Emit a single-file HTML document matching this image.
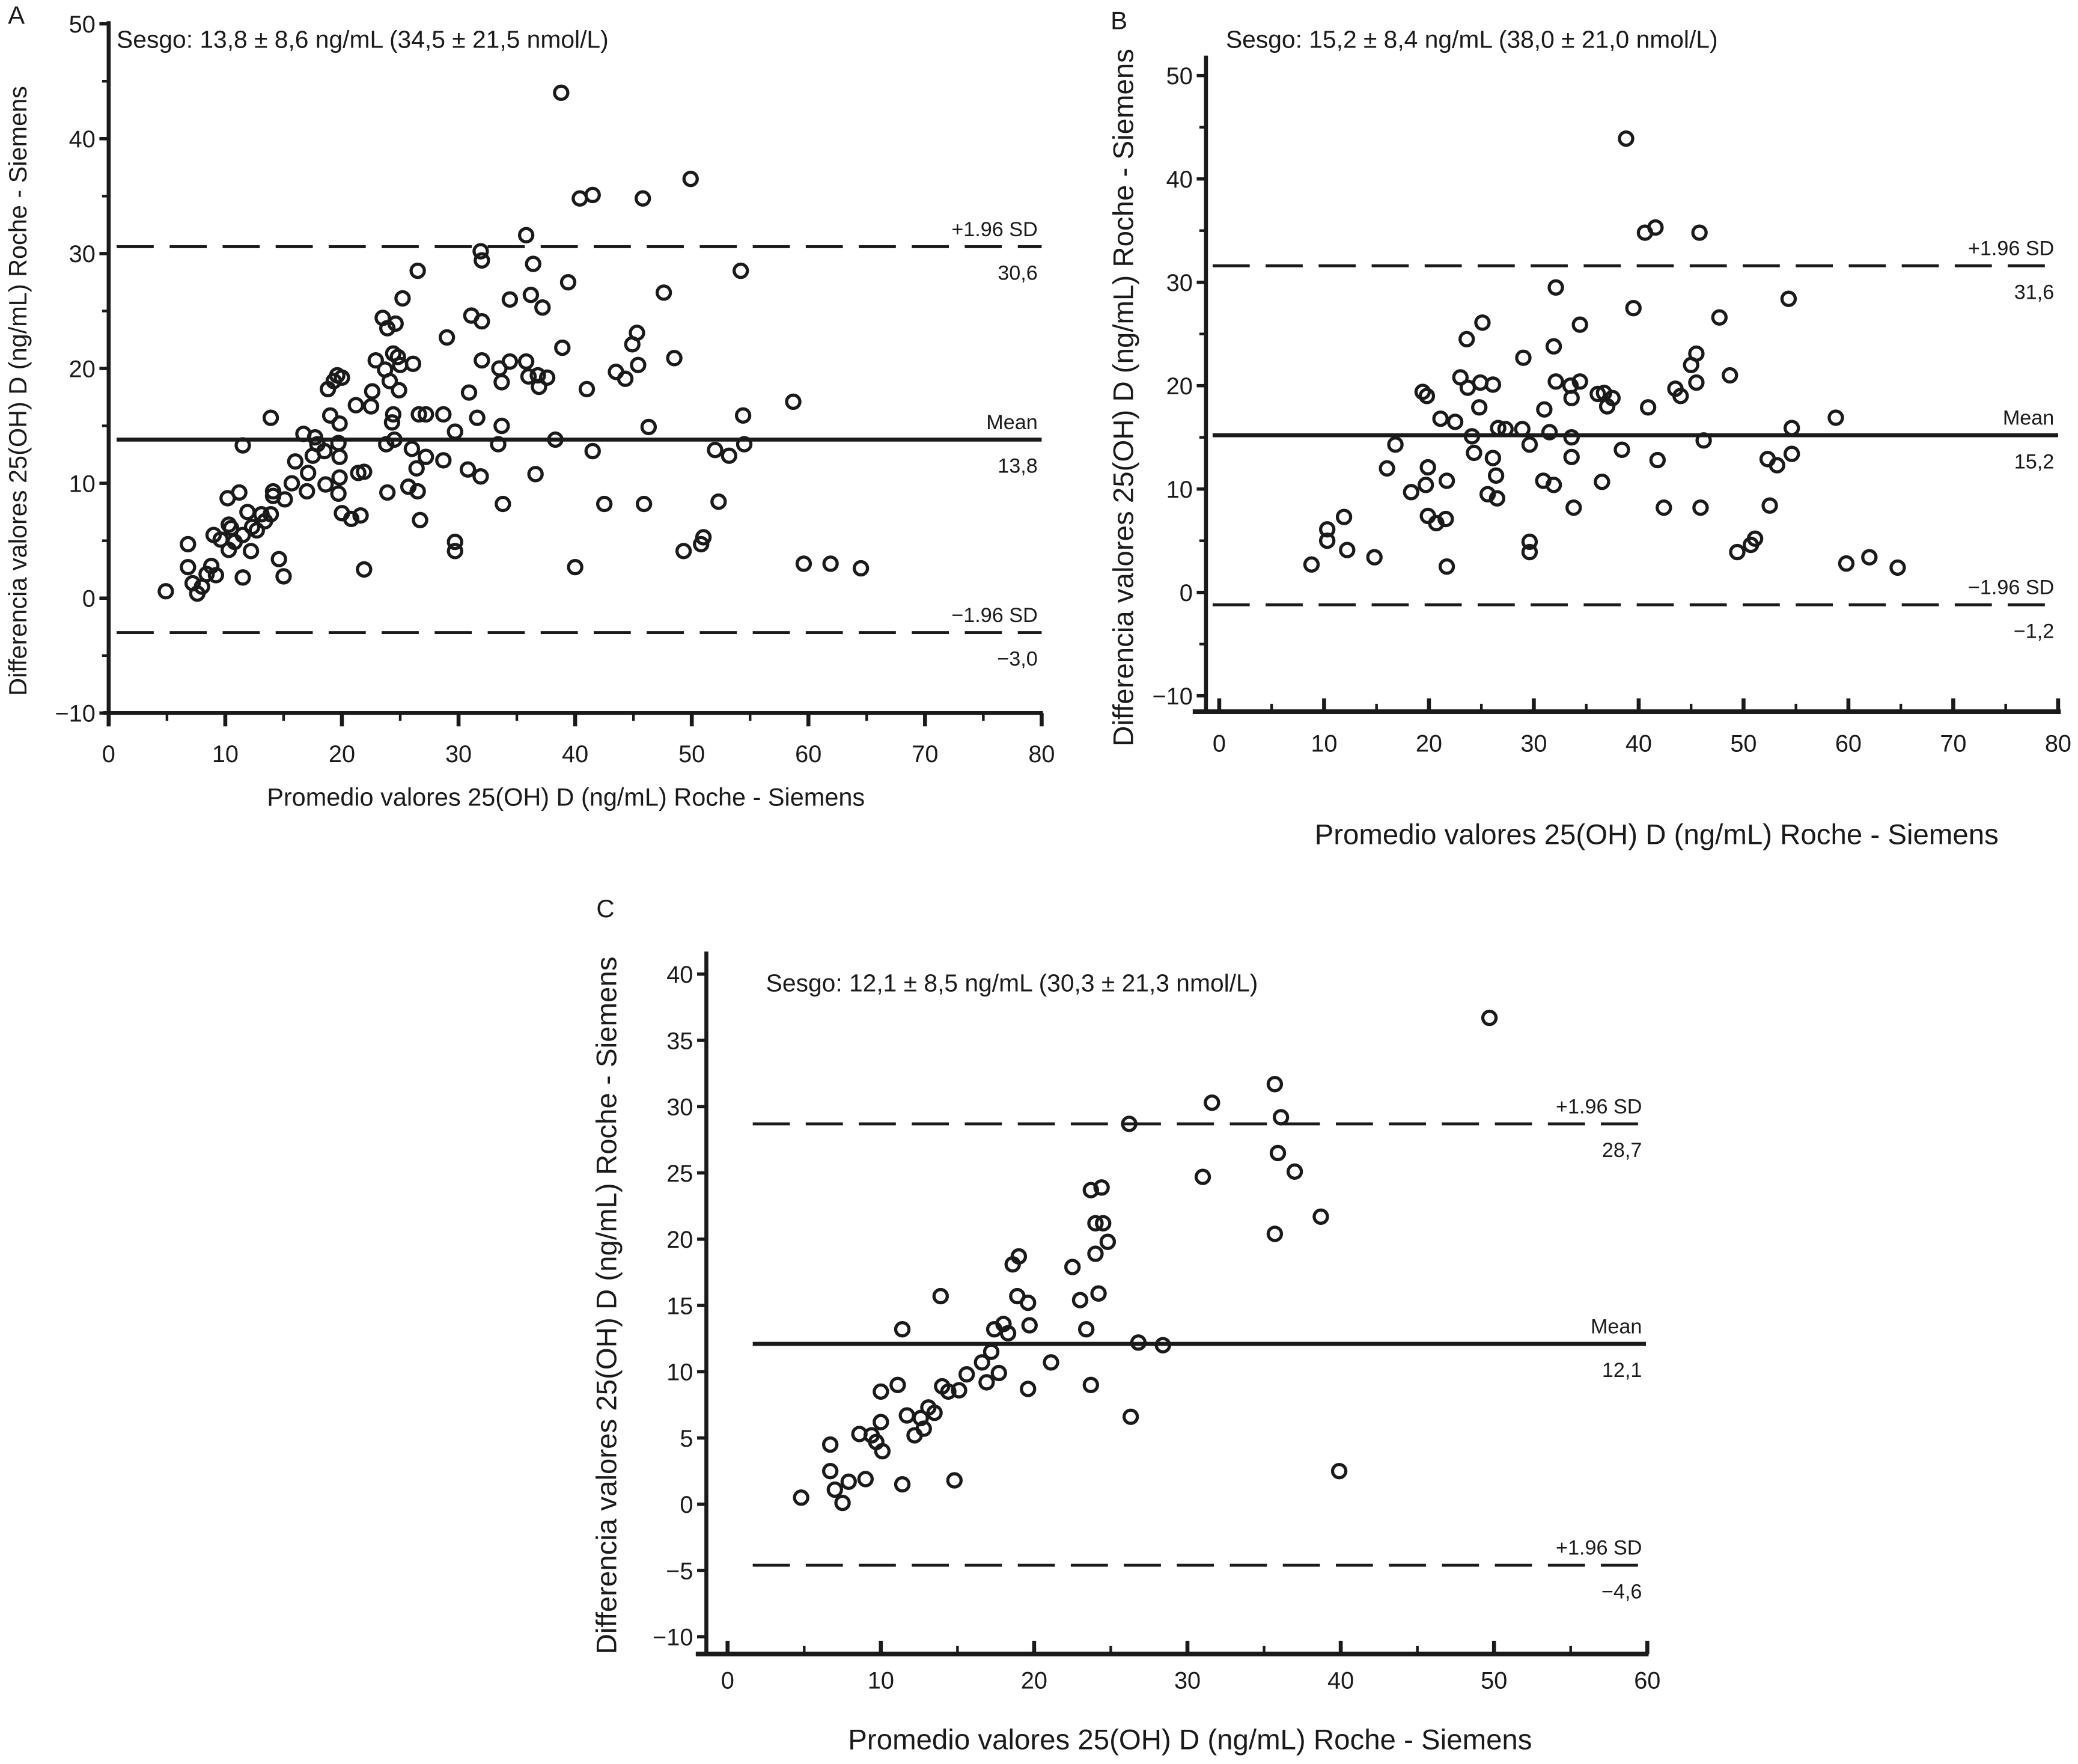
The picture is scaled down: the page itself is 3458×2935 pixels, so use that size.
<!DOCTYPE html>
<html><head><meta charset="utf-8"><style>
html,body{margin:0;padding:0;background:#fff}
svg{display:block}
text{font-family:"Liberation Sans",sans-serif;fill:#1a1a1a}
</style></head><body>
<svg id="fig" xmlns="http://www.w3.org/2000/svg" width="3458" height="2935" viewBox="0 0 1568 1331" preserveAspectRatio="none">
<g id="pA"></g>
<g id="pB"></g>
<g id="pC"></g>
</svg>
<script>
const aX=[4.9,6.8,6.8,7.2,7.6,8.0,8.4,8.8,9.2,9.0,9.6,10.2,10.3,10.5,10.3,10.8,11.2,11.5,11.5,11.5,11.9,12.2,12.3,12.7,13.1,13.4,13.9,13.9,14.1,14.1,14.6,15.0,15.1,15.7,16.0,16.7,17.0,17.1,17.5,17.7,17.9,18.5,18.6,18.8,19.0,19.3,19.6,19.8,20.0,19.7,19.8,19.7,19.8,20.0,20.8,21.2,21.4,21.6,21.9,21.9,22.6,22.5,22.9,23.5,23.9,24.6,23.7,24.1,24.4,24.8,24.9,24.3,24.4,23.8,24.5,25.0,25.2,23.9,25.7,26.0,26.1,26.4,26.5,26.5,26.6,26.7,27.2,27.2,28.7,28.7,29.0,29.7,29.7,29.7,30.8,30.9,31.1,31.6,31.9,32.0,32.0,32.0,31.9,33.4,33.5,33.7,33.7,33.8,34.4,34.4,35.8,35.8,36.0,36.2,36.4,36.6,36.8,36.9,37.2,37.6,38.3,38.8,38.9,39.4,40.0,40.4,41.0,41.5,41.5,42.5,43.5,44.3,44.9,45.3,45.4,45.8,45.9,46.3,47.6,48.5,49.3,49.9,50.8,51.0,52.0,52.3,53.2,54.2,54.4,54.5,58.7,59.6,61.9,64.5];
const aY=[0.6,4.7,2.7,1.3,0.4,1.0,2.1,2.8,2.0,5.5,5.1,8.7,6.4,6.1,4.2,4.9,9.2,5.5,1.8,13.3,7.5,4.1,6.2,5.9,7.3,6.7,15.7,7.3,9.3,8.9,3.4,1.9,8.6,10.0,11.9,14.3,9.3,10.9,12.4,14.0,13.4,12.8,9.9,18.2,15.9,18.9,19.4,15.2,19.2,13.5,12.3,9.1,10.5,7.4,6.9,16.8,10.9,7.2,11.0,2.5,18.0,16.7,20.7,24.4,23.5,23.9,19.9,18.9,21.3,21.0,18.1,15.3,16.0,13.4,13.8,20.3,26.1,9.2,9.7,13.0,20.4,11.3,9.3,28.5,16.0,6.8,12.3,16.0,12.0,16.0,22.7,14.5,4.9,4.1,11.2,17.9,24.6,15.7,30.2,29.4,24.1,20.7,10.6,13.4,20.0,18.8,15.0,8.2,26.0,20.6,31.6,20.6,19.3,26.4,29.1,10.8,19.4,18.4,25.3,19.2,13.8,44.0,21.8,27.5,2.7,34.8,18.2,35.1,12.8,8.2,19.7,19.1,22.1,23.1,20.3,34.8,8.2,14.9,26.6,20.9,4.1,36.5,4.7,5.3,12.9,8.4,12.4,28.5,15.9,13.4,17.1,3.0,3.0,2.6];
const bX=[8.8,10.3,10.3,11.9,12.2,14.8,16.0,16.8,18.3,19.4,19.8,19.7,19.9,19.9,20.7,21.6,21.7,21.7,21.1,22.5,23.0,23.6,23.7,24.1,24.3,24.8,24.9,25.1,25.6,26.1,26.1,26.4,26.5,26.6,27.3,28.9,29.0,29.6,29.6,29.6,30.9,31.0,31.5,31.9,31.9,32.1,32.1,33.5,33.6,33.6,33.6,33.8,34.4,34.4,36.1,36.5,36.7,37.0,37.5,38.4,38.8,39.5,40.6,40.9,41.6,41.8,42.4,43.5,44.0,45.0,45.5,45.5,45.8,45.9,46.2,47.7,48.7,49.4,50.7,51.1,52.3,52.5,53.2,54.3,54.6,54.6,58.8,59.8,62.0,64.7];
const bY=[2.7,6.1,5.0,7.3,4.1,3.4,12.0,14.3,9.7,19.4,19.0,10.4,12.1,7.4,6.7,7.1,10.8,2.5,16.8,16.5,20.8,24.5,19.8,15.1,13.5,17.9,20.3,26.1,9.5,13.0,20.1,11.3,9.1,15.9,15.8,15.8,22.7,14.3,4.9,3.9,10.8,17.7,15.5,10.4,23.8,29.5,20.4,20.0,13.1,18.8,15.0,8.2,25.9,20.4,19.2,10.7,19.3,18.0,18.8,13.8,43.9,27.5,34.8,17.9,35.3,12.8,8.2,19.7,19.0,22.0,23.1,20.3,34.8,8.2,14.7,26.6,21.0,3.9,4.6,5.2,12.9,8.4,12.3,28.4,15.9,13.4,16.9,2.8,3.4,2.4];
const cX=[4.8,6.7,6.7,7.0,7.5,7.9,8.6,9.0,9.4,10.0,10.0,9.7,10.1,11.1,11.4,11.4,11.7,12.2,12.6,12.8,13.1,13.5,13.9,14.0,14.4,14.8,15.1,15.6,16.6,16.9,17.2,17.4,17.7,18.0,18.3,18.6,18.9,19.0,19.6,19.6,19.7,21.1,22.5,23.0,23.4,23.7,23.7,24.0,24.0,24.2,24.4,24.5,24.8,26.2,26.3,26.8,28.4,31.0,31.6,35.7,35.7,35.9,36.1,37.0,38.7,39.9,49.7];
const cY=[0.5,4.5,2.5,1.1,0.1,1.7,5.3,1.9,5.2,8.5,6.2,4.7,4.0,9.0,13.2,1.5,6.7,5.2,6.5,5.7,7.3,6.9,15.7,8.9,8.5,1.8,8.6,9.8,10.7,9.2,11.5,13.2,9.9,13.6,12.9,18.1,15.7,18.7,15.2,8.7,13.5,10.7,17.9,15.4,13.2,9.0,23.7,18.9,21.2,15.9,23.9,21.2,19.8,28.7,6.6,12.2,12.0,24.7,30.3,31.7,20.4,26.5,29.2,25.1,21.7,2.5,36.7];
const aLines=[30.6,13.8,-3.0];
const bLines=[31.6,15.2,-1.2];
const cLines=[28.7,12.1,-4.6];
const aXTicks=[0,10,20,30,40,50,60,70,80];
const aYTicks=[-10,0,10,20,30,40,50];
const bXTicks=[0,10,20,30,40,50,60,70,80];
const bYTicks=[-10,0,10,20,30,40,50];
const cXTicks=[0,10,20,30,40,50,60];
const cYTicks=[-10,-5,0,5,10,15,20,25,30,35,40];
const NS="http://www.w3.org/2000/svg";
function mk(g,tag,at,txt){const e=document.createElementNS(NS,tag);for(const k in at)e.setAttribute(k,at[k]);if(txt!==undefined)e.textContent=txt;g.appendChild(e);return e;}
function fmt(v){return (v<0?"\u2212"+Math.abs(v):String(v)).replace(".",",");}
function fmt1(v){return (v<0?"\u2212":"")+Math.abs(v).toFixed(1).replace(".",",");}
function panel(g,c){
  const sx=v=>c.x0+(v-c.xmin)*c.kx, sy=v=>c.y0-(v-c.ymin)*c.ky;
  let e=mk(g,"line",{x1:c.ax,y1:c.yTop,x2:c.ax,y2:c.yBot,stroke:"#1a1a1a","stroke-width":3});
  
  e=mk(g,"line",{x1:c.xl,y1:c.axy,x2:c.xr,y2:c.axy,stroke:"#1a1a1a","stroke-width":c.xw});
  
  c.yt.forEach((v,i)=>{
    const y=sy(v);
    e=mk(g,"line",{x1:c.ax-7,y1:y,x2:c.ax,y2:y,stroke:"#1a1a1a","stroke-width":2.5});
    
    e=mk(g,"text",{x:c.ax-10,y:y+6.5,"font-size":c.tk,"text-anchor":"end"},fmt(v));
    
    if(c.minorY&&i<c.yt.length-1){const m=sy((v+c.yt[i+1])/2);
      e=mk(g,"line",{x1:c.ax-5,y1:m,x2:c.ax,y2:m,stroke:"#1a1a1a","stroke-width":2});
      }
  });
  c.xt.forEach((v,i)=>{
    const x=sx(v);
    e=mk(g,"line",{x1:x,y1:c.axy+c.td0,x2:x,y2:c.axy+c.td1,stroke:"#1a1a1a","stroke-width":3});
    
    e=mk(g,"text",{x:x,y:c.xly,"font-size":c.tk,"text-anchor":"middle"},fmt(v));
    
    if(i<c.xt.length-1){const m=sx(v+(c.xt[1]-c.xt[0])/2);
      e=mk(g,"line",{x1:m,y1:c.axy+c.td0*0.6,x2:m,y2:c.axy+c.td1*0.6,stroke:"#1a1a1a","stroke-width":2});
      }
  });
  const labs=["+1.96 SD","Mean",c.lowLab];
  c.lines.forEach((v,i)=>{
    const y=sy(v);
    e=mk(g,"line",{x1:c.lx1,y1:y,x2:c.lx2,y2:y,stroke:"#1a1a1a","stroke-width":i==1?3:2.2,"stroke-dasharray":i==1?"":"28 12"});
    
    e=mk(g,"text",{x:c.lx2-3,y:y-8,"font-size":15.5,"text-anchor":"end"},labs[i]);
    
    e=mk(g,"text",{x:c.lx2-3,y:y+25,"font-size":15.5,"text-anchor":"end"},fmt1(v));
    
  });
  c.px.forEach((v,i)=>{
    e=mk(g,"circle",{cx:sx(v),cy:sy(c.py[i]),r:5,fill:"none",stroke:"#1a1a1a","stroke-width":2.4});
    
  });
  e=mk(g,"text",{x:c.lbl[0],y:c.lbl[1],"font-size":19},c.letter);
  
  e=mk(g,"text",{x:c.ses[0],y:c.ses[1],"font-size":18.5},c.sesgo);
  
  e=mk(g,"text",{x:c.xt_[0],y:c.xt_[1],"font-size":c.tfs,"text-anchor":"middle"},"Promedio valores 25(OH) D (ng/mL) Roche - Siemens");
  
  e=mk(g,"text",{x:c.yt_[0],y:c.yt_[1],"font-size":c.tfs,"text-anchor":"middle",transform:`rotate(-90 ${c.yt_[0]} ${c.yt_[1]})`},"Differencia valores 25(OH) D (ng/mL) Roche - Siemens");
  
}
panel(document.getElementById('pA'),{x0:82,xmin:0,kx:8.8,y0:538,ymin:-10,ky:8.667,ax:82,yTop:16,yBot:548,axy:538,xl:78,xr:787,xw:3,td0:0,td1:10,xly:575,tk:18,xt:aXTicks,yt:aYTicks,minorY:true,lines:aLines,lowLab:"\u22121.96 SD",lx1:88,lx2:786,px:aX,py:aY,letter:"A",lbl:[6,18],sesgo:"Sesgo: 13,8 \u00b1 8,6 ng/mL (34,5 \u00b1 21,5 nmol/L)",ses:[88,36],xt_:[427,608],yt_:[20,295],tfs:18.8});
panel(document.getElementById('pB'),{x0:920,xmin:0,kx:7.9125,y0:525,ymin:-10,ky:7.8,ax:910,yTop:42,yBot:537,axy:537,xl:900,xr:1555,xw:3.5,td0:-10,td1:0,xly:567,tk:18,xt:bXTicks,yt:bYTicks,minorY:true,lines:bLines,lowLab:"\u22121.96 SD",lx1:915,lx2:1553,px:bX,py:bY,letter:"B",lbl:[838,22],sesgo:"Sesgo: 15,2 \u00b1 8,4 ng/mL (38,0 \u00b1 21,0 nmol/L)",ses:[925,36],xt_:[1250,637],yt_:[855,300],tfs:21.5});
panel(document.getElementById('pC'),{x0:549,xmin:0,kx:11.567,y0:1235,ymin:-10,ky:10,ax:533,yTop:718,yBot:1248,axy:1248,xl:525,xr:1244,xw:3.5,td0:-10,td1:0,xly:1274,tk:18,xt:cXTicks,yt:cYTicks,minorY:false,lines:cLines,lowLab:"+1.96 SD",lx1:568,lx2:1242,px:cX,py:cY,letter:"C",lbl:[450,692],sesgo:"Sesgo: 12,1 \u00b1 8,5 ng/mL (30,3 \u00b1 21,3 nmol/L)",ses:[578,748],xt_:[898,1320],yt_:[465,985],tfs:21.5});
</script>
</body></html>
